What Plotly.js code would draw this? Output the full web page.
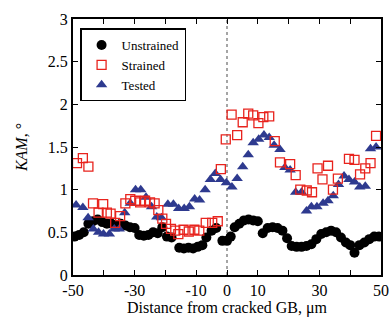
<!DOCTYPE html>
<html>
<head>
<meta charset="utf-8">
<script src="https://cdn.plot.ly/plotly-3.0.1.min.js"></script>
<style>html,body{margin:0;padding:0;background:#fff;}#chart{width:389px;height:327px;}</style>
</head>
<body>
<div id="chart"></div>
<script>
// Unstrained (black circles)
const unstrainedX = [-49.5,-48,-46.5,-45,-43.5,-42,-40.5,-39,-37.5,-36,-34.5,-33,-31.5,-30,-28.5,-27,-25.5,-24,-22.5,-21,-19.5,-18,-15.5,-14,-12.5,-11,-9.5,-8,-6.7,-5,-3.5,-1.5,0,1.2,2.5,4,5.5,7,8.5,10,11.6,13.2,14.8,16.4,18,19.5,21,22.6,24.2,25.8,27.4,29,30.6,32.2,33.8,35.4,37,38.6,40,41.4,43,44.6,46.2,47.8,49.4];
const unstrainedY = [0.45,0.47,0.5,0.6,0.63,0.65,0.62,0.6,0.6,0.58,0.6,0.58,0.56,0.55,0.47,0.46,0.47,0.5,0.49,0.56,0.45,0.44,0.32,0.31,0.32,0.31,0.33,0.35,0.44,0.52,0.55,0.4,0.4,0.45,0.56,0.6,0.64,0.65,0.64,0.63,0.49,0.55,0.56,0.55,0.52,0.43,0.34,0.33,0.33,0.34,0.36,0.42,0.48,0.5,0.52,0.5,0.44,0.38,0.35,0.26,0.35,0.38,0.42,0.45,0.45];

// Strained (red open squares)
const strainedX = [-48.7,-46.8,-45,-43.5,-41.7,-40.2,-39,-37.8,-36.3,-34.7,-33,-31.4,-29.8,-28.2,-26.6,-25,-23.5,-22.3,-21,-19.8,-18.2,-16.8,-15.8,-14.1,-12.4,-10.6,-9,-6.9,-4.8,-3,-2,-0.4,1.5,3.3,5.1,6.9,8.5,10.2,11.8,13.7,15.5,17.2,20.5,22.3,23.8,25.9,27.6,29.4,31,32.8,34.4,36,39.6,41.4,43.2,44.9,46.6,48.4];
const strainedY = [1.31,1.37,1.27,0.84,0.73,0.83,0.73,0.72,0.61,0.69,0.84,0.89,0.87,0.85,0.87,0.85,0.84,0.76,0.66,0.6,0.54,0.52,0.48,0.53,0.51,0.53,0.52,0.61,0.61,0.63,1.24,1.59,1.88,1.64,1.79,1.89,1.87,1.78,1.85,1.86,1.57,1.32,1.3,1.17,1.0,0.99,0.97,1.25,1.12,1.28,1.0,1.13,1.36,1.35,1.18,1.25,1.31,1.63];

// Tested (blue triangles)
const testedX = [-49,-46.8,-45.1,-43.4,-41.7,-40.1,-38.2,-36.6,-35,-33.2,-31.4,-29.7,-28,-26.3,-24.5,-22.8,-21.3,-19.2,-17.4,-15.7,-13.9,-12.2,-10.5,-8.9,-7.1,-5.4,-3.8,-2.1,-0.2,1.6,3.3,5.1,6.9,8.5,10.3,12,13.7,15.3,17.2,18.8,20.5,22.3,24.2,25.8,27.4,29.2,31.2,32.8,34.5,36.2,38,39.6,41.4,43.1,44.9,46.6,48.4];
const testedY = [0.82,0.79,0.67,0.54,0.5,0.48,0.48,0.54,0.54,0.73,0.84,1.0,1.0,0.91,0.8,0.68,0.67,0.83,0.83,0.78,0.78,0.8,0.89,0.88,1.0,1.12,1.19,1.12,1.08,1.03,1.13,1.27,1.41,1.55,1.59,1.64,1.61,1.52,1.47,1.26,1.23,0.97,0.97,0.75,0.8,0.8,0.84,0.87,0.93,1.06,1.16,1.12,1.09,1.03,1.04,1.48,1.5];

const xTickVals = [-50,-40,-30,-20,-10,0,10,20,30,40,50];
const xTickText = ['-50','','-30','','-10','0','10','','30','','50'];

const serif = 'Liberation Serif';

const traces = [
  {x: unstrainedX, y: unstrainedY, name: 'Unstrained', mode: 'markers', type: 'scatter', legendrank: 1,
   marker: {symbol: 'circle', size: 10, color: '#000000'}},
  {x: testedX, y: testedY, name: 'Tested', mode: 'markers', type: 'scatter', legendrank: 3,
   marker: {symbol: 'triangle-up', size: 10, color: '#2e3a8f'}},
  {x: strainedX, y: strainedY, name: 'Strained', mode: 'markers', type: 'scatter', legendrank: 2,
   marker: {symbol: 'square-open', size: 9, color: '#e8231d', line: {width: 1.3, color: '#e8231d'}}}
];

const layout = {
  width: 389, height: 327,
  margin: {l: 73, r: 8, t: 19, b: 52},
  paper_bgcolor: '#ffffff', plot_bgcolor: '#ffffff',
  font: {family: serif, size: 15, color: '#000'},
  showlegend: true,
  legend: {x: 0.023, y: 0.963, xanchor: 'left', yanchor: 'top',
    bordercolor: '#000', borderwidth: 1.5, bgcolor: '#fff',
    font: {family: serif, size: 13, color: '#000'}, tracegroupgap: 0},
  xaxis: {range: [-50, 50], tickvals: xTickVals, ticktext: xTickText,
    ticks: 'inside', ticklen: 5, tickwidth: 1, tickcolor: '#000',
    showline: true, linecolor: '#000', linewidth: 2, mirror: 'ticks',
    showgrid: false, zeroline: false,
    tickfont: {family: serif, size: 16},
    title: {text: 'Distance from cracked GB, μm', font: {family: serif, size: 16}, standoff: 2}},
  yaxis: {range: [0, 3], dtick: 0.5, tick0: 0,
    ticks: 'inside', ticklen: 5, tickwidth: 1, tickcolor: '#000',
    showline: true, linecolor: '#000', linewidth: 2, mirror: 'ticks',
    showgrid: false, zeroline: false,
    tickfont: {family: serif, size: 16},
    title: {text: '<i>KAM</i>, °', font: {family: serif, size: 16}, standoff: 16}},
  shapes: [{type: 'line', xref: 'x', yref: 'paper', x0: 0, x1: 0, y0: 0, y1: 1,
    line: {color: '#888', width: 1.5, dash: 'dot'}, layer: 'below'}]
};

Plotly.newPlot('chart', traces, layout, {displayModeBar: false, staticPlot: true});
</script>
</body>
</html>
